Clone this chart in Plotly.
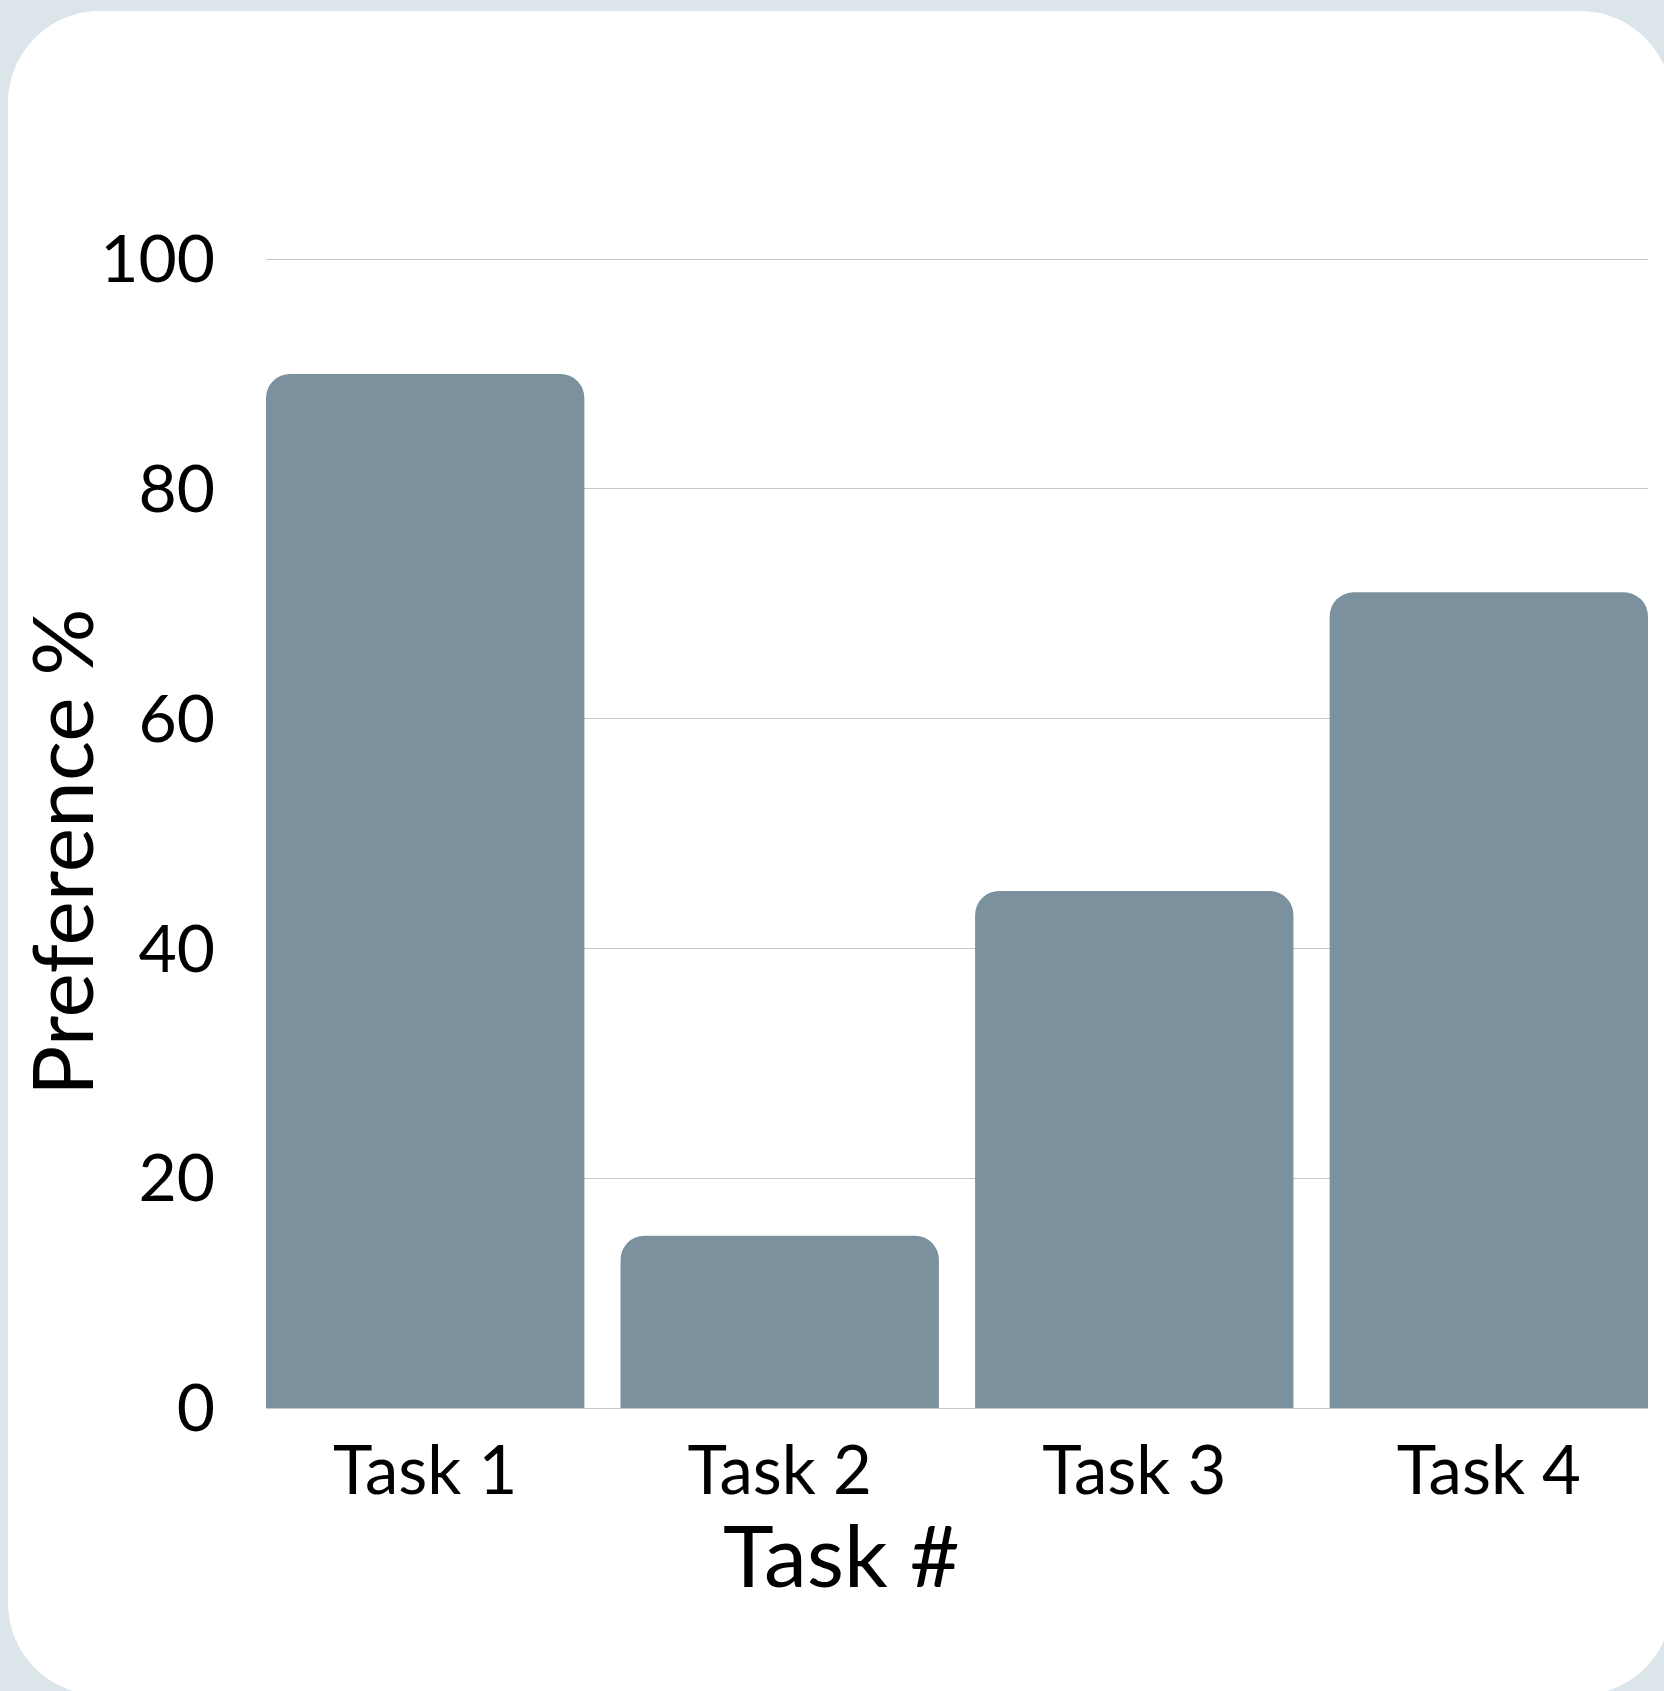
import plotly.graph_objects as go

categories = ["Task 1", "Task 2", "Task 3", "Task 4"]
preference = [90, 15, 45, 71]
y_ticks = [0, 20, 40, 60, 80, 100]

W, H = 1664, 1691
ML, MR, MT, MB = 266, 16, 258, 283
PW, PH = W - ML - MR, H - MT - MB
Y_MAX = 100.1

def px_x(p):
    return (p - ML) / PW

def px_y(p):
    return (H - MB - p) / PH

# rounded card path (paper coords from pixels)
cx0, cx1, cy0, cy1, r = 8, 1672, 11, 1695, 92
k = 0.5523
def pt(x, y):
    return f"{px_x(x):.5f},{px_y(y):.5f}"
path = (
    f"M {pt(cx0 + r, cy0)} L {pt(cx1 - r, cy0)} "
    f"C {pt(cx1 - r + k*r, cy0)} {pt(cx1, cy0 + r - k*r)} {pt(cx1, cy0 + r)} "
    f"L {pt(cx1, cy1 - r)} "
    f"C {pt(cx1, cy1 - r + k*r)} {pt(cx1 - r + k*r, cy1)} {pt(cx1 - r, cy1)} "
    f"L {pt(cx0 + r, cy1)} "
    f"C {pt(cx0 + r - k*r, cy1)} {pt(cx0, cy1 - r + k*r)} {pt(cx0, cy1 - r)} "
    f"L {pt(cx0, cy0 + r)} "
    f"C {pt(cx0, cy0 + r - k*r)} {pt(cx0 + r - k*r, cy0)} {pt(cx0 + r, cy0)} Z"
)

font_family = "Lato, 'Open Sans', sans-serif"

fig = go.Figure(
    go.Bar(
        x=categories,
        y=preference,
        marker=dict(color="#7b929e", cornerradius=24, line=dict(width=0)),
        hoverinfo="skip",
    )
)

fig.update_layout(
    width=W,
    height=H,
    margin=dict(l=ML, r=MR, t=MT, b=MB, pad=0),
    paper_bgcolor="#dce5ea",
    plot_bgcolor="rgba(0,0,0,0)",
    bargap=0.102,
    showlegend=False,
    font=dict(family=font_family, color="#000000"),
    shapes=[
        dict(type="path", path=path, xref="paper", yref="paper",
             fillcolor="#ffffff", line=dict(width=0), layer="below")
    ],
    annotations=[
        dict(text="Task #", xref="paper", yref="paper",
             x=px_x(841), y=px_y(1553), xanchor="center", yanchor="middle",
             showarrow=False, font=dict(size=86, family=font_family, color="#000000")),
        dict(text="Preference %", xref="paper", yref="paper",
             x=px_x(60), y=px_y(853), xanchor="center", yanchor="middle",
             textangle=-90, showarrow=False,
             font=dict(size=84, family=font_family, color="#000000")),
    ],
)

fig.update_xaxes(
    range=[-0.449, 3.449],
    showgrid=False,
    showline=False,
    zeroline=False,
    ticks="",
    tickfont=dict(size=67, family=font_family, color="#000000"),
    ticklabelstandoff=18,
)

fig.update_yaxes(
    range=[0, Y_MAX],
    tickvals=y_ticks,
    showgrid=True,
    gridcolor="#c8c8c8",
    gridwidth=1,
    zeroline=True,
    zerolinecolor="#c8c8c8",
    zerolinewidth=1,
    showline=False,
    ticks="",
    tickfont=dict(size=66, family=font_family, color="#000000"),
    ticklabelstandoff=50,
)

fig.write_html("out.html")
